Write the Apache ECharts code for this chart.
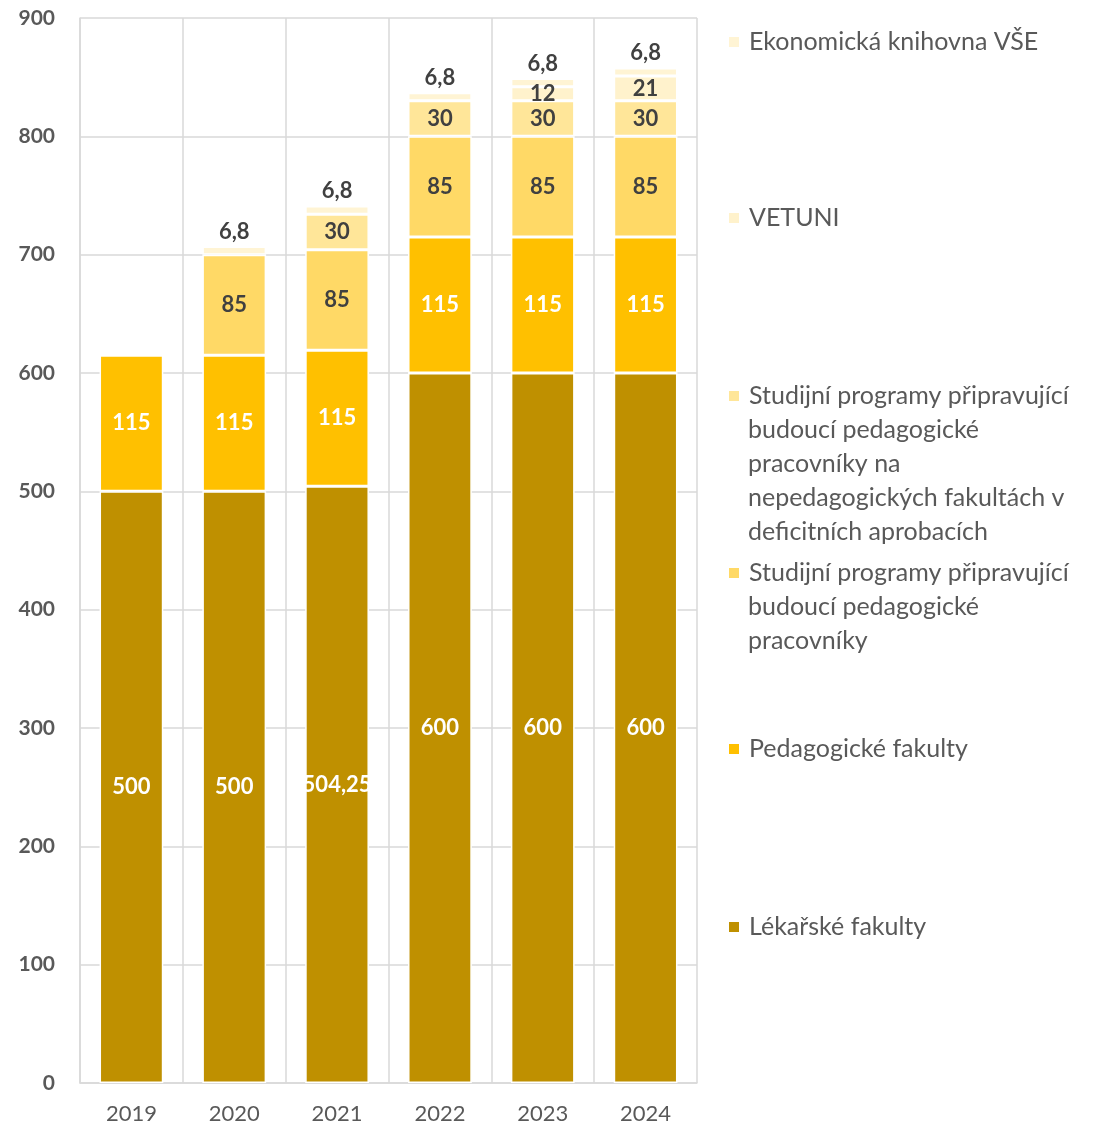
<!DOCTYPE html>
<html>
<head>
<meta charset="utf-8">
<script src="https://cdn.jsdelivr.net/npm/echarts@6/dist/echarts.min.js"></script>
<style>
	html, body { margin: 0; padding: 0; background: #fff; }
	#chart { width: 1094px; height: 1128px; }
</style>
</head>
<body>
<div id="chart"></div>
<script>
// data
const years = ["2019", "2020", "2021", "2022", "2023", "2024"];
const lekarske = [500, 500, 504.25, 600, 600, 600];
const pedagogicke = [115, 115, 115, 115, 115, 115];
const studijni = [null, 85, 85, 85, 85, 85];
const deficitni = [null, null, 30, 30, 30, 30];
const vetuni = [null, null, null, null, 12, 21];
const ekonomicka = [null, 6.8, 6.8, 6.8, 6.8, 6.8];
const yTicks = [0, 100, 200, 300, 400, 500, 600, 700, 800, 900];

const names = [
	"Lékařské fakulty",
	"Pedagogické fakulty",
	"Studijní programy připravující budoucí pedagogické pracovníky",
	"Studijní programy připravující budoucí pedagogické pracovníky na nepedagogických fakultách v deficitních aprobacích",
	"VETUNI",
	"Ekonomická knihovna VŠE",
];
// legend text split into lines as in the original
const legendLines = [
	["Lékařské fakulty"],
	["Pedagogické fakulty"],
	["Studijní programy připravující", "budoucí pedagogické", "pracovníky"],
	["Studijní programy připravující", "budoucí pedagogické", "pracovníky na", "nepedagogických fakultách v", "deficitních aprobacích"],
	["VETUNI"],
	["Ekonomická knihovna VŠE"],
];

const colors = ["#BF9000", "#FFC000", "#FFD966", "#FFE699", "#FFF2CC", "#FFF4D4"];
const labelColors = ["#ffffff", "#ffffff", "#404040", "#404040", "#404040", "#404040"];
const seriesData = [lekarske, pedagogicke, studijni, deficitni, vetuni, ekonomicka];
// y centre of the first legend line for each entry
const legendCenters = [927, 749, 573, 396, 218, 42];
const lineH = 34;
const textX = 748;

const fmt = (v) => String(v).replace(".", ",");
const font = "Lato, 'Open Sans', sans-serif";
const legendFontSize = 25;

const series = seriesData.map((d, i) => ({
	name: names[i],
	type: "bar",
	stack: "total",
	barWidth: "62%",
	data: d,
	itemStyle: { color: colors[i], borderColor: "#fff", borderWidth: 1.5 },
	label: {
		show: true,
		position: i === 5 ? "top" : "inside",
		distance: 4,
		color: labelColors[i],
		fontFamily: font,
		fontWeight: "bold",
		fontSize: 22,
		formatter: (p) => fmt(p.value),
	},
}));

const legends = names.map((n, i) => ({
	data: [n],
	left: 727,
	top: legendCenters[i] - lineH / 2,
	padding: 0,
	orient: "vertical",
	itemWidth: 12,
	itemHeight: 12,
	itemGap: 0,
	icon: "rect",
	formatter: () => legendLines[i][0],
	textStyle: { fontFamily: font, fontSize: legendFontSize, color: "#595959", lineHeight: lineH, padding: [0, 0, 0, 4] },
}));

// continuation lines of the wrapped legend entries
const extraText = [];
legendLines.forEach((lines, i) => {
	lines.slice(1).forEach((t, k) => {
		extraText.push({
			type: "text",
			x: textX,
			y: legendCenters[i] + lineH * (k + 1),
			style: {
				text: t,
				fill: "#595959",
				font: legendFontSize + "px " + font,
				textVerticalAlign: "middle",
				verticalAlign: "middle",
			},
		});
	});
});

const chart = echarts.init(document.getElementById("chart"));
chart.setOption({
	animation: false,
	grid: { left: 80, right: 397, top: 18, bottom: 45 },
	legend: legends,
	graphic: extraText,
	xAxis: {
		type: "category",
		data: years,
		axisLine: { lineStyle: { color: "#D9D9D9", width: 1.5 } },
		axisTick: { show: false },
		splitLine: { show: true, lineStyle: { color: "#D9D9D9", width: 1.5 } },
		axisLabel: { color: "#595959", fontFamily: font, fontSize: 22, margin: 20 },
	},
	yAxis: {
		type: "value",
		min: yTicks[0],
		max: yTicks[yTicks.length - 1],
		interval: 100,
		axisLine: { show: true, lineStyle: { color: "#D9D9D9", width: 1.5 } },
		splitLine: { lineStyle: { color: "#D9D9D9", width: 1.5 } },
		axisLabel: { color: "#595959", fontFamily: font, fontWeight: "bold", fontSize: 21, margin: 25 },
	},
	series: series,
});
</script>
</body>
</html>
